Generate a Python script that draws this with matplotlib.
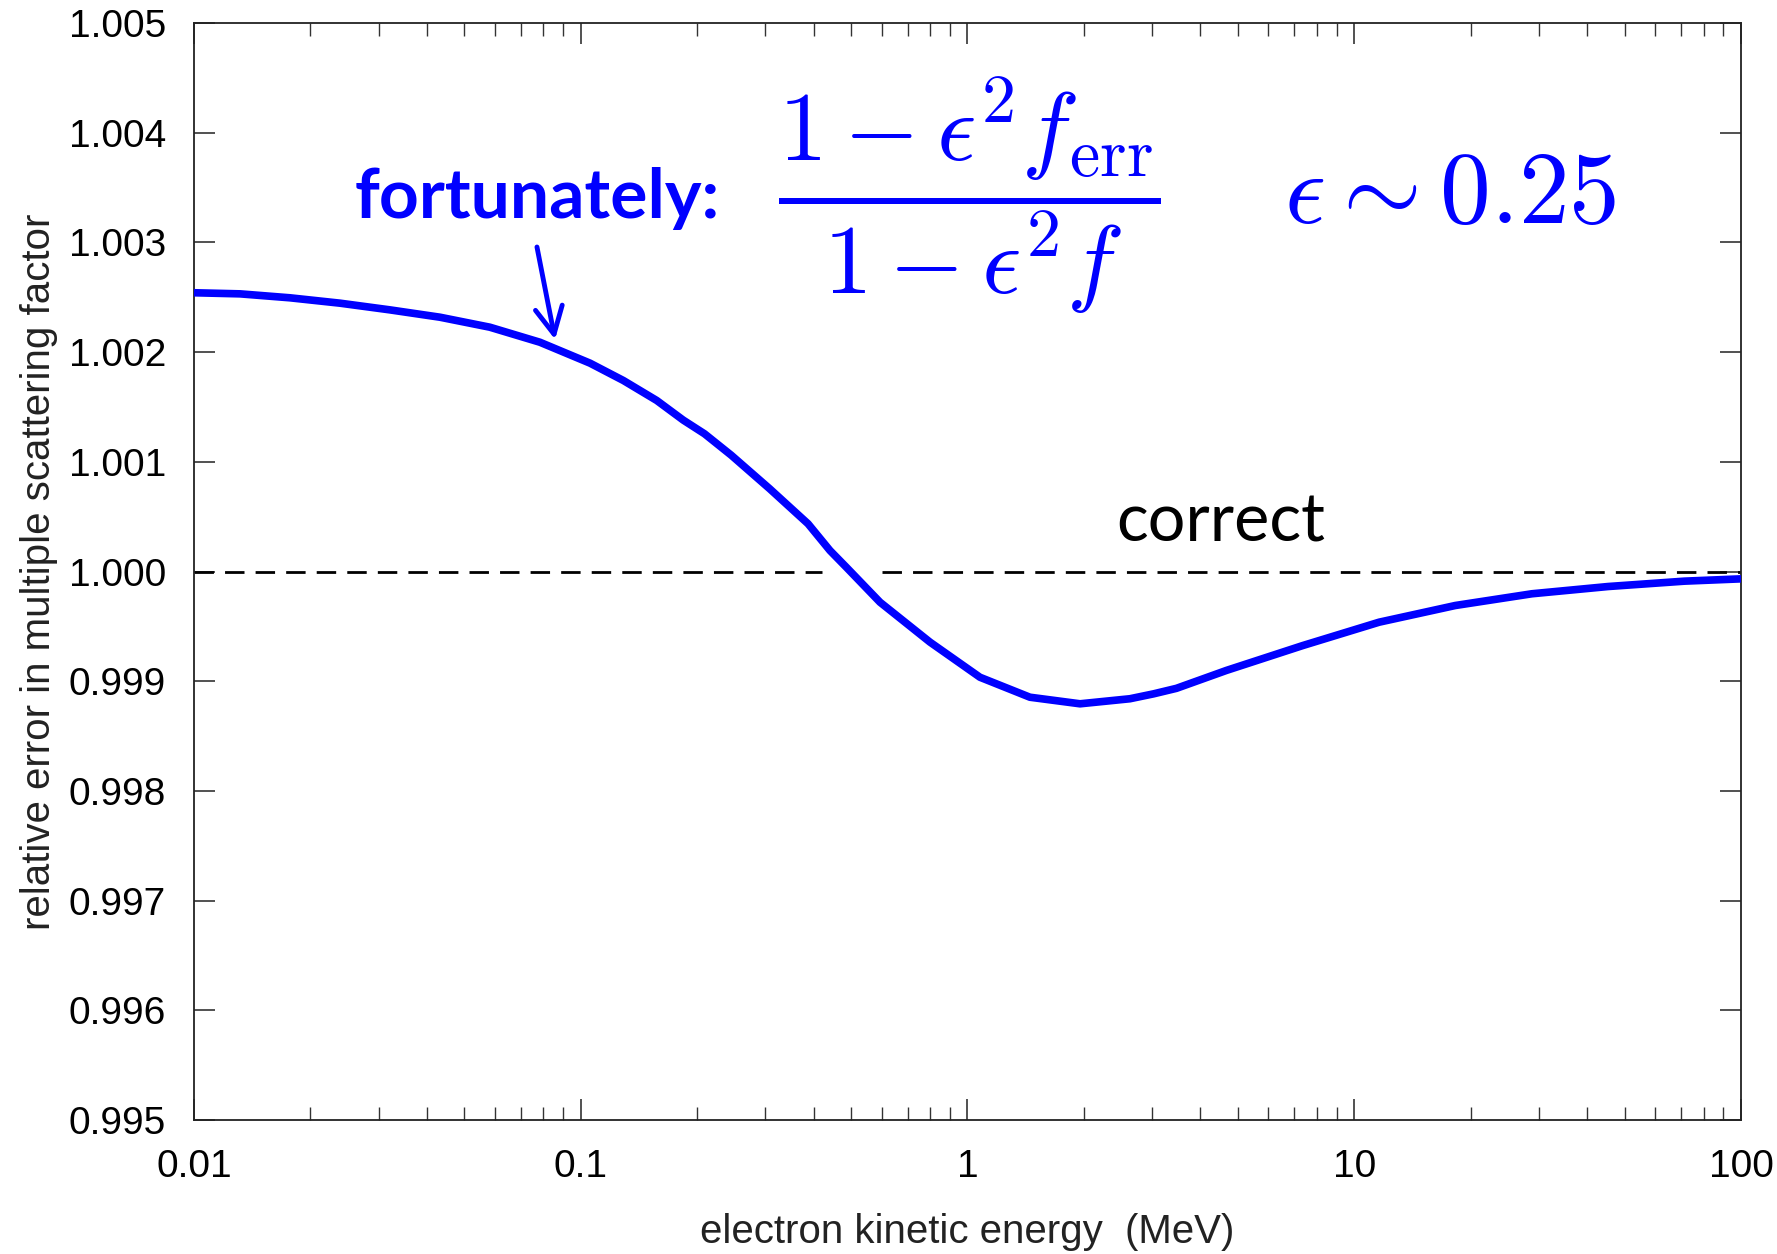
import numpy as np
import matplotlib
matplotlib.use("Agg")
import matplotlib.pyplot as plt
from matplotlib.ticker import FixedLocator, FixedFormatter, LogLocator, NullFormatter

# valores
energy = [0.01, 0.01315, 0.0177, 0.02385, 0.0321, 0.04325, 0.0582, 0.0784, 0.1057,
          0.1289, 0.1572, 0.1841, 0.209, 0.245, 0.308, 0.387, 0.441, 0.486, 0.594,
          0.80, 1.077, 1.45, 1.954, 2.63, 3.03, 3.47, 4.67, 7.36, 11.6, 18.25, 28.8,
          45.3, 71.4, 100]
factor = [1.002541, 1.002531, 1.002495, 1.002446, 1.002385, 1.002318, 1.002227,
          1.002090, 1.001899, 1.001741, 1.001559, 1.001380, 1.001255, 1.001060,
          1.000754, 1.000435, 1.000191, 1.000039, 0.999720, 0.999356, 0.999036,
          0.998854, 0.998794, 0.998840, 0.998885, 0.998935, 0.999098, 0.999325,
          0.999538, 0.999690, 0.999797, 0.999863, 0.999912, 0.999933]

# referencia "correct" (con el hueco donde la cruza la curva)
ref_level = 1.0
ref_segments = [(0.01, 0.42), (0.60, 100)]

x_ticks = [0.01, 0.1, 1, 10, 100]
x_labels = ["0.01", "0.1", "1", "10", "100"]
y_ticks = [0.995, 0.996, 0.997, 0.998, 0.999, 1.000, 1.001, 1.002, 1.003, 1.004, 1.005]

plt.rcParams['font.family'] = ['Liberation Sans', 'DejaVu Sans']
plt.rcParams['mathtext.fontset'] = 'cm'

W, H = 1777, 1254
fig = plt.figure(figsize=(W / 100, H / 100), dpi=100)
ax = fig.add_axes([194 / W, 1 - 1120 / H, 1547 / W, 1097 / H])

# linea de referencia y curva
for x0, x1 in ref_segments:
    ax.plot([x0, x1], [ref_level, ref_level], color='black', lw=2.0,
            dashes=(7, 4), zorder=2)
ax.plot(energy, factor, color='#0000ff', lw=5.5, solid_capstyle='butt',
        solid_joinstyle='round', zorder=3)

ax.set_xscale('log')
ax.set_xlim(0.01, 100)
ax.set_ylim(0.995, 1.005)

ax.xaxis.set_major_locator(FixedLocator(x_ticks))
ax.xaxis.set_major_formatter(FixedFormatter(x_labels))
ax.xaxis.set_minor_locator(LogLocator(base=10, subs=np.arange(2, 10)))
ax.xaxis.set_minor_formatter(NullFormatter())
ax.set_yticks(y_ticks)
ax.set_yticklabels(["%.3f" % v for v in y_ticks])

ax.tick_params(which='both', direction='in', top=True, right=True, color='#333333')
ax.tick_params(which='major', length=15, width=1.2)
ax.tick_params(which='minor', length=9.5, width=1.0)
ax.tick_params(axis='y', labelsize=28, pad=20)
ax.tick_params(axis='x', labelsize=28, pad=21)
for s in ax.spines.values():
    s.set_linewidth(1.3)
    s.set_color('#222222')

ax.set_xlabel('electron kinetic energy  (MeV)', fontsize=29, color='#222222', va='center')
ax.xaxis.set_label_coords(0.5, -0.102)
ax.set_ylabel('relative error in multiple scattering factor', fontsize=29, labelpad=8,
              color='#222222')

# anotaciones
ax.text(0.104, 0.822, 'fortunately:', transform=ax.transAxes, fontsize=50,
        fontweight='bold', family=['Lato', 'DejaVu Sans'], color='#0000ff', va='baseline')
ax.text(0.501, 0.843, r'$\dfrac{1-\epsilon^2 f_{\mathrm{err}}}{1-\epsilon^2 f}$',
        transform=ax.transAxes, fontsize=70, color='#0000ff', ha='center', va='center')
ax.text(0.812, 0.818, r'$\epsilon \sim 0.25$', transform=ax.transAxes, fontsize=73,
        color='#0000ff', ha='center', va='baseline')
ax.text(0.596, 0.527, 'correct', transform=ax.transAxes, fontsize=48,
        family=['Lato', 'DejaVu Sans'], color='black', va='baseline')

ax.annotate('', xy=(0.2334, 0.7115), xytext=(0.2217, 0.7958),
            xycoords='axes fraction', textcoords='axes fraction',
            arrowprops=dict(arrowstyle='->,head_length=0.97,head_width=0.49',
                            mutation_scale=20, color='#0000ff', lw=3.5,
                            shrinkA=0, shrinkB=0))

fig.savefig('out.png', dpi=100)
